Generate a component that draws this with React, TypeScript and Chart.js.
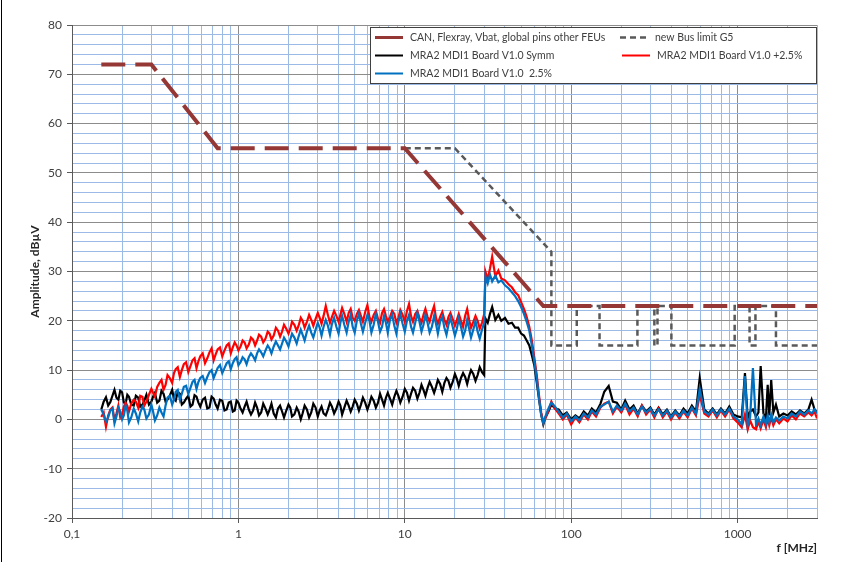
import React, { useEffect, useRef } from 'react';
import { Chart, registerables } from 'chart.js';

Chart.register(...registerables);

// Frequency axis of the measurement traces (MHz)
const freqs = [
  // 0.15 .. 1 MHz
  0.15, 0.155, 0.16, 0.165, 0.17, 0.175, 0.18, 0.185, 0.19, 0.195,
  0.2, 0.205, 0.21, 0.215, 0.22, 0.227, 0.235, 0.242, 0.25, 0.257,
  0.265, 0.272, 0.28, 0.29, 0.3, 0.307, 0.315, 0.325, 0.335, 0.345,
  0.355, 0.365, 0.375, 0.387, 0.4, 0.41, 0.42, 0.432, 0.445, 0.457,
  0.47, 0.485, 0.5, 0.515, 0.53, 0.545, 0.56, 0.575, 0.59, 0.61,
  0.63, 0.65, 0.67, 0.69, 0.71, 0.73, 0.75, 0.775, 0.8, 0.825,
  0.85, 0.875, 0.9, 0.925, 0.95, 0.975, 1.0,
  // 1 .. 30 MHz
  1.03, 1.06, 1.09, 1.12, 1.155, 1.19, 1.225, 1.26, 1.295, 1.33,
  1.37, 1.41, 1.455, 1.5, 1.54, 1.58, 1.63, 1.68, 1.73, 1.78,
  1.83, 1.88, 1.94, 2.0, 2.05, 2.1, 2.17, 2.24, 2.3, 2.37,
  2.43, 2.5, 2.58, 2.66, 2.74, 2.82, 2.91, 3.0, 3.08, 3.16,
  3.25, 3.35, 3.45, 3.55, 3.65, 3.76, 3.88, 4.0, 4.1, 4.2,
  4.33, 4.47, 4.6, 4.73, 4.86, 5.0, 5.15, 5.3, 5.45, 5.6,
  5.78, 5.96, 6.13, 6.3, 6.5, 6.7, 6.9, 7.1, 7.3, 7.5,
  7.7, 7.9, 8.15, 8.4, 8.65, 8.9, 9.15, 9.4, 9.7, 10,
  10.3, 10.6, 10.9, 11.2, 11.55, 11.9, 12.25, 12.6, 12.95, 13.3,
  13.7, 14.1, 14.55, 15, 15.4, 15.8, 16.3, 16.8, 17.3, 17.8,
  18.3, 18.8, 19.4, 20, 20.55, 21.1, 21.75, 22.4, 23.05, 23.7,
  24.35, 25, 25.8, 26.6, 27.4, 28.2, 29.1, 30,
  // 30 .. 80 MHz
  30.5, 31.5, 32.5, 33.5, 35, 36.5, 38, 40, 42, 44, 46, 48, 50, 52, 54, 56, 58, 60, 62, 64, 66, 68, 70, 73, 76, 80,
  // 80 .. 3000 MHz
  84, 89, 94, 100, 106, 112, 119, 126, 133, 141, 150, 158, 168, 178, 188, 200, 211, 224, 237, 251,
  266, 282, 299, 316, 335, 355, 376, 398, 422, 447, 473, 501, 531, 562, 592, 631, 668, 708, 750, 794,
  841, 891, 944, 1000, 1059, 1107, 1150, 1189, 1236, 1290, 1334, 1376, 1430, 1480, 1516, 1550, 1592, 1640, 1700, 1778,
  1884, 1995, 2113, 2239, 2371, 2512, 2661, 2784, 2900, 3000,
];

// MRA2 MDI1 Board V1.0 Symm (dBµV)
const symm = [
  2.0, 3.6, 4.5, 2.8, 3.5, 4.8, 6.0, 4.4, 4.0, 5.8,
  5.5, 3.4, 3.2, 5.0, 4.6, 3.0, 2.8, 4.8, 4.4, 2.6,
  3.0, 3.8, 5.0, 3.0, 3.6, 4.6, 5.4, 3.4, 3.8, 5.8,
  5.2, 3.6, 4.0, 4.8, 6.0, 4.2, 3.8, 5.6, 5.2, 3.0,
  3.4, 4.2, 4.8, 2.6, 3.0, 4.9, 4.6, 3.4, 2.6, 4.0,
  4.4, 2.2, 2.4, 4.6, 4.2, 3.0, 2.2, 4.0, 3.8, 1.8,
  2.0, 3.4, 3.6, 1.6, 1.8, 3.8, 3.4,
  2.2, 1.4, 2.6, 3.6, 2.0, 1.0, 1.8, 3.4, 2.4, 0.8,
  1.4, 3.2, 2.2, 1.0, 2.0, 3.2, 1.2, 0.4, 2.2, 2.8,
  1.6, 0.4, 1.8, 3.0, 2.4, 0.6, 1.0, 2.4, 1.6, 0.0,
  1.2, 2.8, 2.0, 0.4, 1.4, 3.2, 2.4, 0.6, 1.8, 2.6,
  1.2, 0.8, 2.0, 3.4, 2.6, 1.2, 2.2, 3.6, 2.8, 1.0,
  2.4, 3.8, 2.8, 1.6, 2.6, 4.0, 3.2, 1.8, 3.0, 4.4,
  3.4, 2.0, 3.2, 4.6, 3.8, 2.4, 3.4, 5.2, 4.0, 2.8,
  4.4, 5.4, 4.2, 3.0, 4.6, 5.8, 4.8, 3.4, 4.6, 6.2,
  5.4, 3.8, 5.2, 6.4, 5.8, 4.2, 5.4, 7.0, 6.0, 4.8,
  6.4, 7.6, 6.6, 5.4, 6.6, 8.0, 7.2, 5.6, 7.4, 8.4,
  7.8, 6.4, 7.6, 9.2, 8.2, 6.8, 8.4, 9.4, 8.6, 7.2,
  8.8, 10.0, 9.2, 7.8, 9.0, 10.6, 9.6, 9.0,
  20.5, 19.6, 21.4, 22.8, 20.2, 21.2, 20.0, 20.6, 19.4, 19.6, 18.6, 18.6, 17.4, 17.0, 16.0, 15.0, 13.0, 11.0, 7.6, 4.2, 1.0, -1.0, 0.4, 1.6, 3.0, 2.2,
  2.0, 0.8, 1.4, 0.0, 0.8, 0.2, 1.6, 0.8, 2.2, 1.4, 3.2, 5.6, 6.8, 3.6, 3.4, 2.0, 3.8, 2.0, 2.8, 1.2,
  2.8, 1.6, 2.4, 1.0, 2.4, 1.0, 2.0, 0.6, 1.8, 0.8, 2.2, 1.2, 2.8, 1.6, 8.4, 2.0, 1.2, 2.2, 1.0, 2.2,
  1.2, 2.6, 1.0, 0.6, 0.4, 9.4, 0.2, 1.6, 2.0, 0.6, 1.4, 10.8, 1.2, 0.2, 7.0, 0.8, 8.0, 1.4, 3.0, 0.6,
  1.2, 0.8, 1.6, 1.0, 1.8, 1.2, 2.0, 4.0, 2.0, 1.4,
];

// MRA2 MDI1 Board V1.0 +2.5% (dBµV)
const plus25 = [
  0.5, 1.4, -1.5, 0.8, 2.0, 2.4, 0.0, 1.2, 2.8, 0.4,
  1.0, 2.6, 3.4, 2.8, 1.6, 3.2, 4.0, 3.6, 2.4, 4.8,
  4.6, 2.8, 3.6, 5.0, 6.2, 5.4, 4.6, 6.6, 7.4, 8.0,
  6.0, 7.0, 9.0, 8.4, 7.4, 9.4, 10.2, 10.6, 8.6, 10.0,
  11.2, 11.6, 9.6, 10.8, 12.0, 12.4, 10.4, 11.8, 12.8, 13.4,
  11.4, 12.4, 13.6, 14.4, 12.0, 13.2, 14.2, 14.6, 12.8, 14.0,
  15.0, 15.4, 13.4, 14.6, 15.6, 15.0, 14.0,
  14.8, 16.0, 15.6, 14.4, 15.2, 16.6, 16.2, 15.0, 16.0, 17.2,
  16.8, 15.6, 16.4, 17.8, 17.4, 16.2, 17.0, 18.6, 18.0, 16.8,
  17.8, 19.2, 18.4, 17.4, 18.4, 19.8, 19.2, 18.0, 19.0, 20.6,
  20.0, 18.6, 19.8, 21.2, 20.2, 19.0, 20.4, 21.6, 20.6, 19.4,
  21.0, 23.0, 21.2, 19.6, 20.8, 22.0, 21.0, 19.8, 21.2, 22.6,
  21.4, 19.8, 21.6, 22.4, 20.6, 20.0, 21.4, 22.2, 21.0, 19.8,
  21.8, 23.2, 20.8, 19.8, 21.2, 22.0, 20.4, 19.6, 21.6, 22.4,
  21.0, 19.8, 20.8, 22.0, 21.4, 19.6, 20.6, 22.2, 21.2, 19.8,
  22.0, 23.4, 21.0, 19.8, 21.4, 22.0, 20.6, 19.6, 21.2, 22.4,
  20.8, 19.8, 21.6, 23.0, 20.6, 19.4, 20.8, 21.8, 20.2, 19.2,
  20.8, 21.6, 20.4, 19.0, 20.2, 21.4, 20.0, 18.8, 21.0, 22.4,
  20.2, 18.6, 19.8, 21.0, 20.0, 18.4, 19.6, 21.4,
  30.0, 28.4, 30.6, 33.0, 29.0, 30.2, 28.6, 28.2, 27.4, 26.8, 25.8, 25.2, 23.8, 22.4, 20.8, 18.8, 16.0, 12.6, 9.2, 5.0, 1.4, -0.6, 0.2, 1.8, 3.6, 2.2,
  1.2, 0.0, 1.0, -1.0, 0.4, -0.6, 1.0, 0.0, 1.6, 0.6, 2.4, 3.2, 3.6, 1.2, 2.6, 1.4, 3.0, 1.0, 2.2, 0.6,
  2.8, 1.0, 2.0, 0.4, 2.2, 0.4, 1.6, 0.0, 1.4, 0.2, 1.6, 0.4, 2.2, 0.8, 5.0, 1.2, 0.6, 1.8, 0.4, 1.8,
  0.6, 2.0, 0.2, -0.6, -1.6, 1.0, -2.0, -0.2, -1.6, -2.0, -0.4, -1.8, 0.0, -1.6, 0.2, -1.2, 0.4, -1.2, 0.0, -0.8,
  0.2, -0.4, 0.8, 0.0, 1.2, 0.6, 1.4, 0.8, 1.6, 0.2,
];

// MRA2 MDI1 Board V1.0 -2.5% (dBµV)
const minus25 = [
  2.0, 1.0, -0.5, 0.4, 1.8, 2.2, -0.8, 0.6, 2.4, 1.6,
  0.0, 0.8, 2.8, 1.8, -0.6, 0.4, 2.2, 1.2, -0.4, 1.4,
  2.6, 2.0, 0.2, 1.0, 3.0, 1.6, -0.2, 0.8, 2.4, 1.4,
  0.6, 2.8, 4.4, 4.8, 3.0, 4.0, 5.6, 6.0, 4.0, 5.2,
  6.6, 6.8, 5.2, 6.4, 7.6, 8.0, 6.2, 7.6, 8.4, 8.8,
  7.4, 8.6, 9.6, 10.0, 8.4, 9.4, 10.4, 11.0, 9.4, 10.4,
  11.4, 11.8, 10.2, 11.4, 12.2, 12.6, 11.0,
  11.6, 12.6, 12.2, 11.2, 12.6, 13.4, 12.8, 12.0, 13.4, 14.2,
  13.6, 12.8, 14.0, 15.0, 14.4, 13.4, 14.8, 15.8, 15.0, 14.2,
  15.4, 16.6, 15.8, 14.8, 16.2, 17.4, 16.6, 15.4, 16.8, 18.2,
  17.2, 16.0, 17.8, 19.0, 17.6, 16.6, 18.2, 19.6, 18.6, 17.0,
  18.8, 20.2, 19.0, 17.2, 19.4, 20.6, 18.8, 17.4, 19.6, 21.0,
  19.2, 17.6, 19.8, 21.2, 18.8, 17.6, 20.0, 21.4, 19.4, 17.8,
  19.6, 21.2, 20.0, 17.6, 19.2, 21.4, 19.8, 17.8, 18.8, 21.0,
  19.6, 17.6, 20.2, 21.2, 19.0, 17.4, 19.8, 21.4, 19.4, 17.8,
  20.0, 21.2, 18.8, 17.6, 19.6, 21.6, 19.8, 17.8, 19.2, 21.2,
  19.6, 17.6, 18.8, 21.0, 19.4, 17.4, 19.8, 20.8, 18.6, 17.2,
  19.2, 20.6, 18.8, 17.0, 18.4, 20.4, 18.8, 16.8, 18.0, 20.2,
  18.4, 16.6, 18.2, 20.0, 17.8, 16.4, 18.2, 19.6,
  29.0, 27.6, 29.4, 28.0, 29.2, 27.8, 28.2, 27.2, 26.6, 25.8, 25.0, 24.0, 22.8, 21.4, 19.8, 18.0, 15.0, 11.8, 8.4, 4.4, 1.0, -0.8, 0.6, 2.2, 3.4, 2.6,
  1.6, 0.4, 1.2, -0.4, 0.6, -0.2, 1.2, 0.4, 1.8, 1.0, 2.6, 3.0, 3.6, 1.6, 2.8, 1.8, 3.2, 1.6, 2.4, 1.0,
  2.6, 1.4, 2.2, 0.8, 2.0, 0.8, 1.8, 0.4, 1.6, 0.6, 1.8, 0.8, 2.4, 1.2, 6.2, 1.6, 1.0, 2.0, 0.8, 2.0,
  1.0, 2.2, 0.6, 0.0, -1.0, 8.8, -1.2, 0.4, 10.4, -1.0, 0.2, -1.2, 0.6, -1.0, 0.8, -0.6, 1.0, -0.6, 0.4, -0.2,
  0.6, 0.2, 1.2, 0.6, 1.6, 1.0, 1.8, 1.2, 2.0, 1.2,
];

// Limit lines
const canFreq = [0.15, 0.3, 0.75, 10, 68, 3000];
const canLevel = [72, 72, 55, 55, 23, 23];
const busFreq = [10, 20, 76, 76, 108, 108, 148, 148, 250, 250, 316, 316, 330, 330, 400, 400, 960, 960, 1180, 1180, 1280, 1280, 1700, 1700, 3000];
const busLevel = [55, 55, 34, 15, 15, 23, 23, 15, 15, 23, 23, 15, 15, 23, 23, 15, 15, 23, 23, 15, 15, 23, 23, 15, 15];

// Axes
const xGridValues = [
  0.1, 0.2, 0.3, 0.4, 0.5, 0.6, 0.7, 0.8, 0.9,
  1, 2, 3, 4, 5, 6, 7, 8, 9,
  10, 20, 30, 40, 50, 60, 70, 80, 90,
  100, 200, 300, 400, 500, 600, 700, 800, 900,
  1000, 2000, 3000,
];
const xMajorValues = [0.1, 1, 10, 100, 1000];
const xTickLabels = ['0,1', '1', '10', '100', '1000'];
const yMin = -20;
const yMax = 80;
const yStep = 2;
const yLabelStep = 10;

const seriesLabels = [
  'CAN, Flexray, Vbat, global pins other FEUs',
  'new Bus limit G5',
  'MRA2 MDI1 Board V1.0 Symm',
  'MRA2 MDI1 Board V1.0 +2.5%',
  'MRA2 MDI1 Board V1.0  2.5%',
];

const MAJOR = '#8c8c8c';
const MINOR = '#9bbbe6';
const FONT = 'Lato, "Liberation Sans", sans-serif';

const isMajorX = (v: number) => xMajorValues.some((m) => Math.abs(m - v) < 1e-9);

const legendPlugin = {
  id: 'boxLegend',
  afterDatasetsDraw(chart: any) {
    const ctx = chart.ctx as CanvasRenderingContext2D;
    const ds = chart.data.datasets;
    ctx.save();
    ctx.fillStyle = '#ffffff';
    ctx.fillRect(370, 27, 446, 56);
    ctx.strokeStyle = '#404040';
    ctx.lineWidth = 1;
    ctx.strokeRect(370.5, 27.5, 446, 56);
    const slots = [
      { i: 0, x: 375, y: 37.5 },
      { i: 1, x: 620, y: 37.5 },
      { i: 2, x: 375, y: 55.5 },
      { i: 3, x: 622, y: 55.5 },
      { i: 4, x: 375, y: 73.5 },
    ];
    ctx.font = `10.5px ${FONT}`;
    ctx.textBaseline = 'middle';
    ctx.textAlign = 'left';
    for (const s of slots) {
      const d = ds[s.i];
      ctx.beginPath();
      ctx.strokeStyle = d.borderColor;
      ctx.lineWidth = s.i === 0 ? 3 : s.i === 1 ? 2.5 : 2;
      ctx.setLineDash(s.i === 1 ? [6, 4] : []);
      ctx.moveTo(s.x, s.y);
      ctx.lineTo(s.x + 28, s.y);
      ctx.stroke();
      ctx.setLineDash([]);
      ctx.fillStyle = '#404040';
      ctx.fillText(d.label, s.x + 35, s.y);
    }
    ctx.restore();
  },
  afterDraw(chart: any) {
    const ctx = chart.ctx as CanvasRenderingContext2D;
    ctx.save();
    ctx.strokeStyle = '#000000';
    ctx.lineWidth = 1;
    ctx.beginPath();
    ctx.moveTo(1.5, 0);
    ctx.lineTo(1.5, 562);
    ctx.stroke();
    ctx.restore();
  },
};

export default function App() {
  const ref = useRef<HTMLCanvasElement>(null);
  useEffect(() => {
    const canvas = ref.current!;
    const pts = (xs: number[], ys: number[]) => {
      const n = Math.min(xs.length, ys.length);
      return xs.slice(0, n).map((f, i) => ({ x: f, y: ys[i] }));
    };
    const chart = new Chart(canvas, {
      type: 'line',
      data: {
        datasets: [
          { label: seriesLabels[0], data: pts(canFreq, canLevel), borderColor: '#953735', borderWidth: 4, borderDash: [24, 10], order: 0 },
          { label: seriesLabels[1], data: pts(busFreq, busLevel), borderColor: '#595959', borderWidth: 2.5, borderDash: [6, 4], order: 0 },
          { label: seriesLabels[2], data: pts(freqs, symm), borderColor: '#000000', borderWidth: 2.2, order: 3 },
          { label: seriesLabels[3], data: pts(freqs, plus25), borderColor: '#ff0000', borderWidth: 2.2, order: 2 },
          { label: seriesLabels[4], data: pts(freqs, minus25), borderColor: '#0070c0', borderWidth: 2.2, order: 1 },
        ] as any,
      },
      options: {
        animation: false,
        responsive: false,
        maintainAspectRatio: false,
        elements: { point: { radius: 0 }, line: { tension: 0 } },
        layout: { padding: { left: 0, right: 28, top: 25, bottom: 0 } },
        plugins: { legend: { display: false }, tooltip: { enabled: false } },
        scales: {
          x: {
            type: 'logarithmic',
            min: 0.1,
            max: 3000,
            afterBuildTicks: (s: any) => {
              s.ticks = xGridValues.map((v) => ({ value: v, major: isMajorX(v) }));
            },
            afterFit: (s: any) => {
              s.height = 44;
            },
            ticks: {
              autoSkip: false,
              maxRotation: 0,
              minRotation: 0,
              padding: 4,
              color: '#404040',
              font: { family: FONT, size: 12 },
              callback: (v: any) => {
                const k = xMajorValues.findIndex((m) => Math.abs(m - Number(v)) < 1e-9);
                return k >= 0 ? xTickLabels[k] : '';
              },
            },
            grid: {
              color: (c: any) => (isMajorX(c.tick?.value) ? MAJOR : MINOR),
              tickColor: (c: any) => (isMajorX(c.tick?.value) ? '#595959' : 'rgba(0,0,0,0)'),
              tickLength: 5,
              lineWidth: 1,
            },
            border: { color: '#595959', width: 1 },
            title: {
              display: true,
              text: 'f [MHz]',
              align: 'end',
              color: '#262626',
              font: { family: FONT, size: 12, weight: 'bold' },
              padding: { top: 0, bottom: 7 },
            },
          },
          y: {
            min: yMin,
            max: yMax,
            afterFit: (s: any) => {
              s.width = 72;
            },
            ticks: {
              stepSize: yStep,
              autoSkip: false,
              padding: 5,
              color: '#404040',
              font: { family: FONT, size: 12 },
              callback: (v: any) => (Number(v) % yLabelStep === 0 ? String(v) : ''),
            },
            grid: {
              color: (c: any) => (c.tick && c.tick.value % yLabelStep === 0 ? MAJOR : MINOR),
              tickColor: (c: any) => (c.tick && c.tick.value % yLabelStep === 0 ? '#595959' : 'rgba(0,0,0,0)'),
              tickLength: 5,
              lineWidth: 1,
            },
            border: { color: '#595959', width: 1 },
            title: {
              display: true,
              text: 'Amplitude, dBµV',
              color: '#262626',
              font: { family: FONT, size: 12, weight: 'bold' },
              padding: { top: 28, bottom: 0 },
            },
          },
        },
      } as any,
      plugins: [legendPlugin],
    });
    return () => chart.destroy();
  }, []);
  return (
    <div style={{ position: 'fixed', left: 0, top: 0, width: 845, height: 562, background: '#fff' }}>
      <canvas ref={ref} width={845} height={562} style={{ display: 'block', width: 845, height: 562 }} />
    </div>
  );
}
